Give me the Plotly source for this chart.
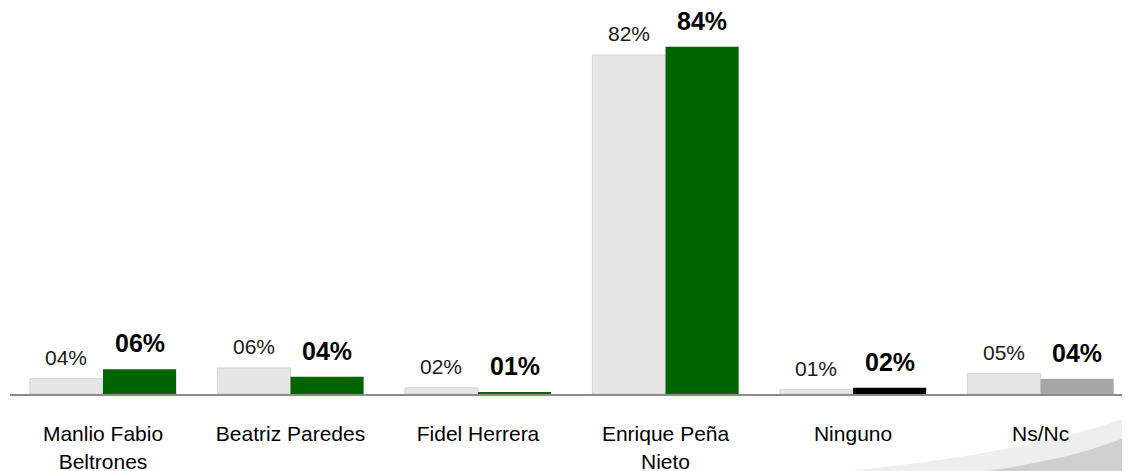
import plotly.graph_objects as go

categories = ["Manlio Fabio<br>Beltrones", "Beatriz Paredes", "Fidel Herrera",
              "Enrique Peña<br>Nieto", "Ninguno", "Ns/Nc"]
prev_values = [3.7, 6.3, 1.5, 82.0, 1.0, 4.9]
prev_labels = ["04%", "06%", "02%", "82%", "01%", "05%"]
curr_values = [6.0, 4.2, 0.4, 84.0, 1.5, 3.7]
curr_labels = ["06%", "04%", "01%", "84%", "02%", "04%"]
curr_colors = ["#006400", "#006400", "#006400", "#006400", "#000000", "#a6a6a6"]

FONT = "Liberation Sans, Arial, sans-serif"
BARGAP = 0.22
half = (1 - BARGAP) / 4  # offset of each bar centre within its group

fig = go.Figure()
fig.add_trace(go.Bar(
    x=categories, y=prev_values,
    marker=dict(color="#e6e6e6", line=dict(color="#d4d4d4", width=1)),
    showlegend=False, hoverinfo="skip",
))
fig.add_trace(go.Bar(
    x=categories, y=curr_values,
    marker=dict(color=curr_colors, line=dict(width=0)),
    showlegend=False, hoverinfo="skip",
))

annotations = []
for i, (v, t) in enumerate(zip(prev_values, prev_labels)):
    annotations.append(dict(x=i - half, y=v, xref="x", yref="y", text=t,
                            showarrow=False, yanchor="bottom", yshift=8,
                            font=dict(family=FONT, size=21, color="#1a1a1a")))
for i, (v, t) in enumerate(zip(curr_values, curr_labels)):
    annotations.append(dict(x=i + half, y=v, xref="x", yref="y", text=f"<b>{t}</b>",
                            showarrow=False, yanchor="bottom", yshift=10,
                            font=dict(family=FONT, size=25, color="#000000")))

# decorative swoosh bottom-right
fig.add_shape(type="path", xref="paper", yref="paper", layer="below",
              path="M 0.70 -0.22 Q 0.9 -0.17 1.0 -0.06 L 1.0 -0.22 Z",
              fillcolor="rgba(205,205,205,0.35)", line=dict(width=0))
fig.add_shape(type="path", xref="paper", yref="paper", layer="below",
              path="M 0.84 -0.22 Q 0.95 -0.18 1.0 -0.11 L 1.0 -0.22 Z",
              fillcolor="rgba(150,150,150,0.35)", line=dict(width=0))

# page body has an 8px margin, so the figure is sized/offset to compensate
fig.update_layout(
    width=1122, height=463,
    margin=dict(l=2, r=0, t=14, b=77),
    barmode="group", bargap=BARGAP, bargroupgap=0,
    plot_bgcolor="white", paper_bgcolor="white",
    font=dict(family=FONT, size=21, color="#000000"),
    annotations=annotations,
    xaxis=dict(range=[-0.496, 5.477], showline=True, linecolor="#8c8c8c", linewidth=2,
               ticks="", showgrid=False, tickfont=dict(family=FONT, size=21, color="#000000"),
               ticklabelstandoff=20, automargin=False),
    yaxis=dict(range=[0, 90], visible=False, showgrid=False, zeroline=False,
               automargin=False),
)

fig.write_html("out.html")
